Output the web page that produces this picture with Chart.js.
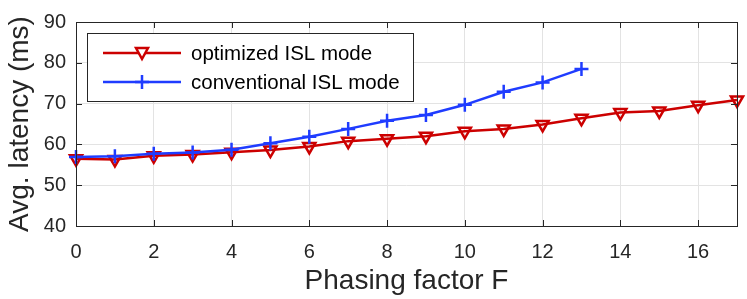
<!DOCTYPE html>
<html>
<head>
<meta charset="utf-8">
<script src="https://cdn.jsdelivr.net/npm/chart.js@4"></script>
<style>
  html, body { margin:0; padding:0; background:#fff; }
  #wrap { width:747px; height:299px; }
</style>
</head>
<body>
<div id="wrap"><canvas id="c" width="747" height="299"></canvas></div>
<script>
// data
const factorOpt = [0,1,2,3,4,5,6,7,8,9,10,11,12,13,14,15,16,17];
const latencyOpt = [56.5,56.3,57.2,57.5,58.1,58.6,59.5,60.8,61.4,62.0,63.2,63.8,64.9,66.4,67.8,68.2,69.6,70.9];
const factorConv = [0,1,2,3,4,5,6,7,8,9,10,11,12,13];
const latencyConv = [56.9,57.1,57.7,58.0,58.7,60.3,61.9,63.8,65.8,67.2,69.7,72.9,75.2,78.5];
const xTicks = [0,2,4,6,8,10,12,14,16];
const yTicks = [40,50,60,70,80,90];
const seriesNames = ['optimized ISL mode', 'conventional ISL mode'];

const RED = '#cc0000', BLUE = '#1f3cff', AX = '#262626';
const FONT = 'Liberation Sans, Arial, Helvetica, sans-serif';

const pts = (xs, ys) => xs.map((x,i)=>({x, y: ys[i]}));

// box, inward ticks and the legend, matlab style
const matlabAxes = {
  id:'matlabAxes',
  afterDatasetsDraw(chart){
    const {ctx, chartArea:a, scales:{x, y}} = chart;
    ctx.save();
    ctx.strokeStyle = AX; ctx.lineWidth = 1;
    ctx.strokeRect(Math.round(a.left)+0.5, Math.round(a.top)+0.5, Math.round(a.right-a.left), Math.round(a.bottom-a.top));
    const L = 6;
    ctx.beginPath();
    xTicks.forEach(v=>{
      const px = Math.round(x.getPixelForValue(v))+0.5;
      ctx.moveTo(px, a.bottom); ctx.lineTo(px, a.bottom-L);
      ctx.moveTo(px, a.top); ctx.lineTo(px, a.top+L);
    });
    yTicks.forEach(v=>{
      const py = Math.round(y.getPixelForValue(v))+0.5;
      ctx.moveTo(a.left, py); ctx.lineTo(a.left+L, py);
      ctx.moveTo(a.right, py); ctx.lineTo(a.right-L, py);
    });
    ctx.stroke();

    // legend
    ctx.fillStyle = '#fff';
    ctx.fillRect(87, 33, 326, 68);
    ctx.strokeStyle = AX;
    ctx.strokeRect(87.5, 33.5, 326, 68);
    const rows = [53, 82];
    const ds = chart.data.datasets;
    rows.forEach((ry, i)=>{
      ctx.strokeStyle = ds[i].borderColor; ctx.lineWidth = 2.5;
      ctx.beginPath(); ctx.moveTo(103, ry); ctx.lineTo(181, ry); ctx.stroke();
      ctx.beginPath();
      if (i === 0) {
        ctx.moveTo(136, ry-5); ctx.lineTo(148, ry-5); ctx.lineTo(142, ry+6); ctx.closePath();
        ctx.fillStyle = '#fff'; ctx.fill();
      } else {
        ctx.moveTo(142, ry-7); ctx.lineTo(142, ry+7);
        ctx.moveTo(135, ry); ctx.lineTo(149, ry);
      }
      ctx.stroke();
      ctx.fillStyle = '#000';
      ctx.font = '20.5px ' + FONT;
      ctx.textBaseline = 'middle';
      ctx.fillText(seriesNames[i], 191, ry+1);
    });
    ctx.restore();
  }
};

new Chart(document.getElementById('c').getContext('2d'), {
  type:'line',
  data:{ datasets:[
    { label:seriesNames[0], data:pts(factorOpt, latencyOpt), borderColor:RED, borderWidth:2.5,
      pointStyle:'triangle', pointRotation:180, pointRadius:7, pointBorderWidth:2.5,
      pointBorderColor:RED, pointBackgroundColor:'rgba(0,0,0,0)', clip:false, order:1 },
    { label:seriesNames[1], data:pts(factorConv, latencyConv), borderColor:BLUE, borderWidth:2.5,
      pointStyle:'cross', pointRadius:7, pointBorderWidth:2.5,
      pointBorderColor:BLUE, pointBackgroundColor:BLUE, clip:false, order:0 }
  ]},
  options:{
    responsive:false, animation:false,
    layout:{ padding:{ top:15, right:10, left:0, bottom:0 } },
    plugins:{ legend:{ display:false }, tooltip:{ enabled:false } },
    scales:{
      x:{ type:'linear', min:0, max:17,
        afterBuildTicks: s => { s.ticks = xTicks.map(v=>({value:v})); },
        afterFit: s => { s.height = 73; },
        grid:{ color:'#e3e3e3', drawTicks:false },
        border:{ display:false },
        ticks:{ padding:14, color:AX, font:{ family:FONT, size:20 } },
        title:{ display:true, text:'Phasing factor F', color:AX, padding:{ top:0, bottom:1 }, font:{ family:FONT, size:28 } } },
      y:{ min:40, max:90,
        afterBuildTicks: s => { s.ticks = yTicks.map(v=>({value:v})); },
        afterFit: s => { s.width = 76; },
        grid:{ color:'#e3e3e3', drawTicks:false },
        border:{ display:false },
        ticks:{ padding:10, color:AX, font:{ family:FONT, size:20 } },
        title:{ display:true, text:'Avg. latency (ms)', color:AX, padding:{ top:3, bottom:0 }, font:{ family:FONT, size:28 } } }
    }
  },
  plugins:[matlabAxes]
});
</script>
</body>
</html>
